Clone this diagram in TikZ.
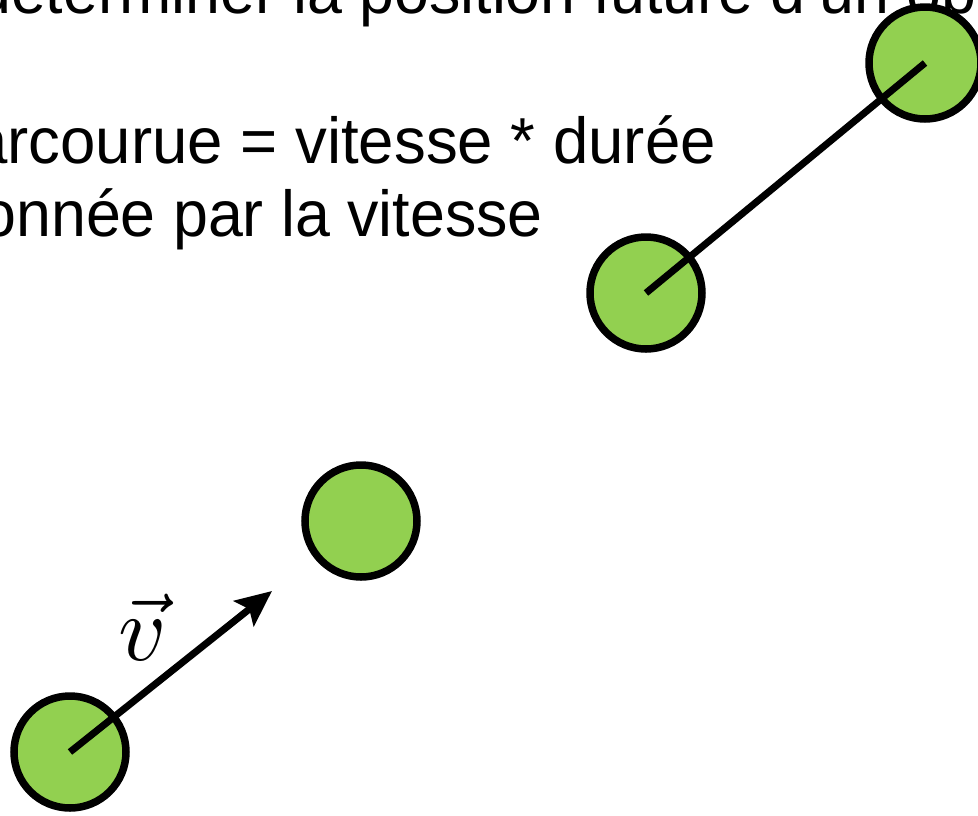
\documentclass[tikz,border=0pt]{standalone}
\usepackage{fontspec}
\setmainfont{Liberation Sans}
\usetikzlibrary{arrows.meta}
\definecolor{ballgreen}{HTML}{92D050}
\begin{document}
\begin{tikzpicture}[x=1pt,y=-1pt,
  ball/.style={circle,draw=black,fill=ballgreen,line width=7.5pt,minimum size=112pt,inner sep=0pt},
  slide/.style={inner sep=0pt,xscale=0.965,font=\fontsize{65}{72}\selectfont},
  thick line/.style={line width=7pt,line cap=butt}]
\useasboundingbox (0,0) rectangle (978,815);
\begin{scope}
\clip (0,0) rectangle (978,815);
\node[slide,anchor=base west] (t1) at (-24,13) {déterminer la position future d'un ob};
\node[slide,xscale=1.013,anchor=base east] (t2) at (716,163) {arcourue = vitesse * durée};
\node[slide,anchor=base east] (t3) at (543,236) {onnée par la vitesse};
\node[ball] (c1) at (70,752) {};
\node[ball] (c2) at (361,521) {};
\node[ball] (c3) at (646,293) {};
\node[ball] (c4) at (925,63) {};
\coordinate (tip) at (272,591);
\draw[thick line] (c3.center) -- (c4.center);
\draw[thick line,-{Stealth[length=36pt,width=32pt,inset=7pt]}] (c1.center) -- (tip);
\node[scale=9.3,inner sep=0pt,anchor=base] (vlab) at (143,660) {$\vec{v}$};
\end{scope}
\end{tikzpicture}
\end{document}
